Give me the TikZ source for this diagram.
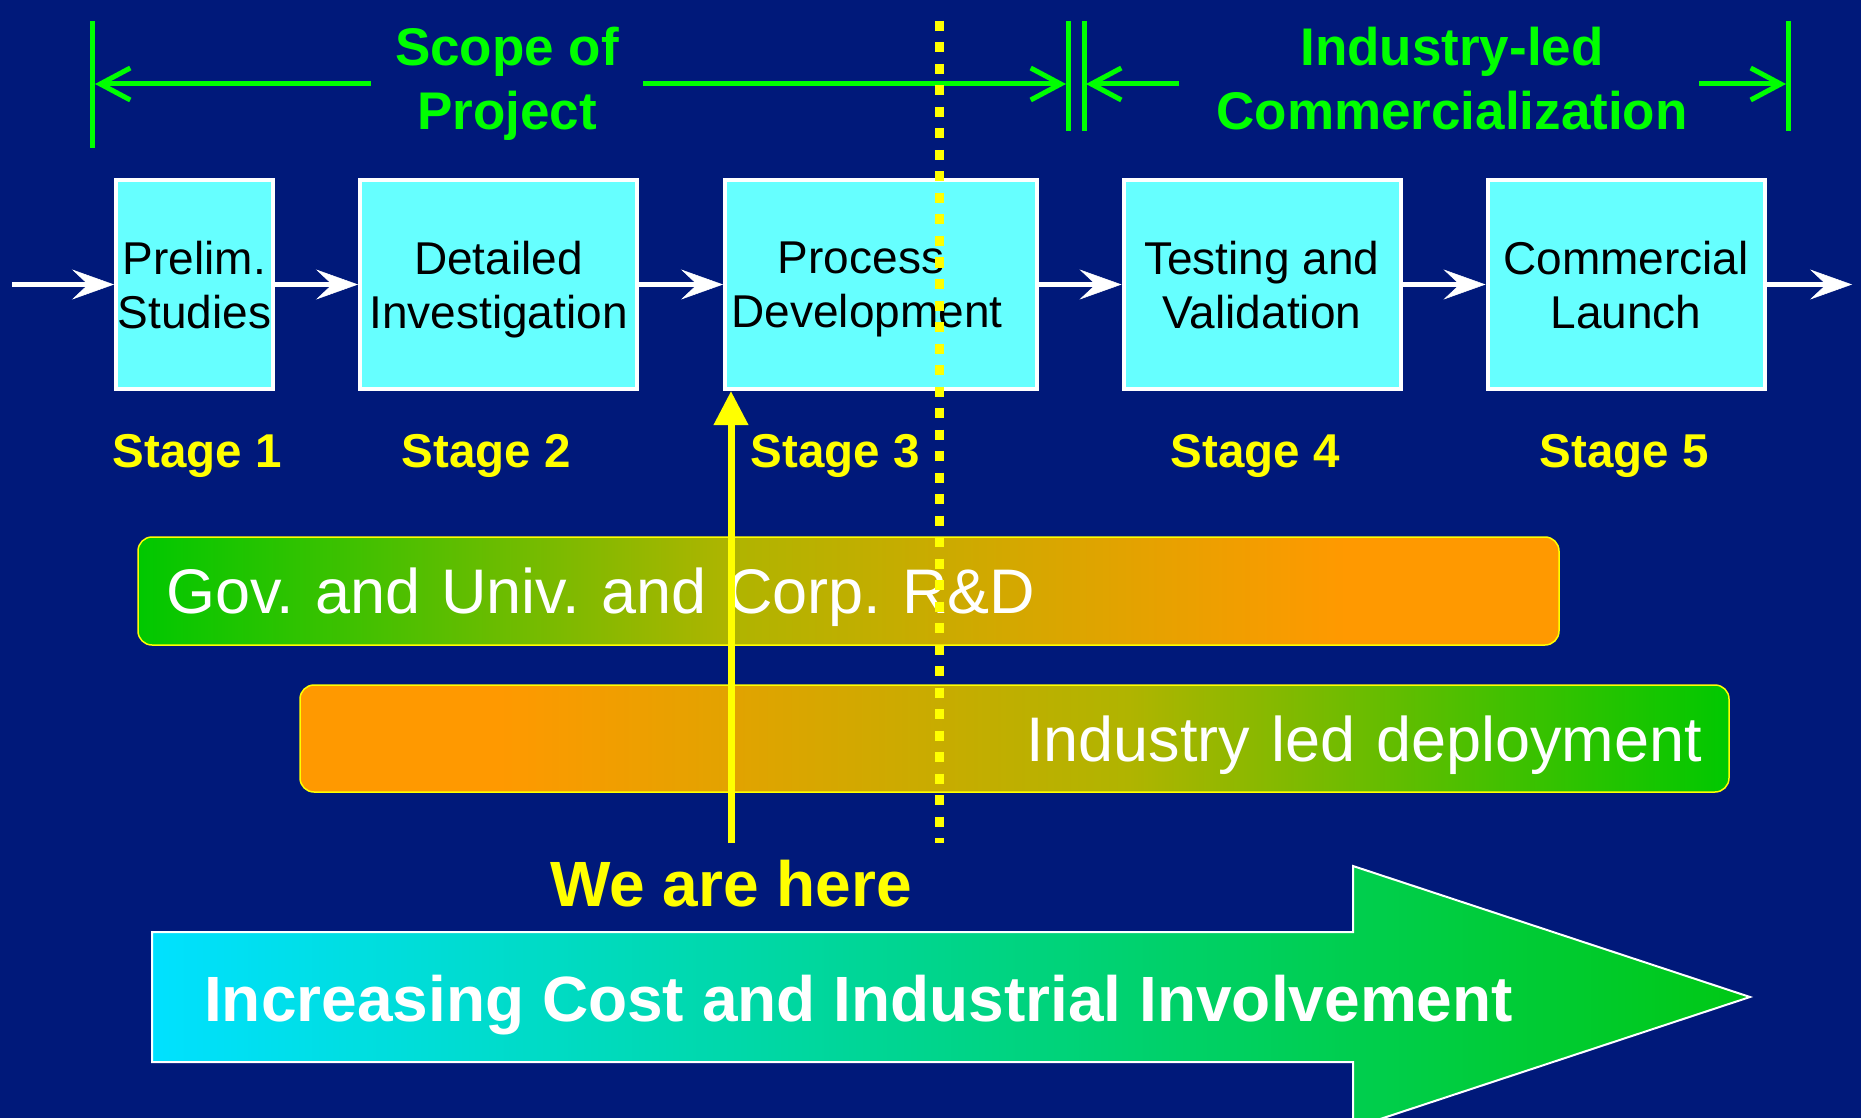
\documentclass[tikz,border=0pt]{standalone}
\usepackage{fontspec}
\setmainfont{Liberation Sans}
\usetikzlibrary{arrows.meta}
\definecolor{bg}{RGB}{0,25,122}
\definecolor{boxcyan}{RGB}{102,255,255}
\definecolor{lgreen}{RGB}{0,255,0}
\definecolor{yel}{RGB}{255,255,0}
\definecolor{barGreen}{RGB}{0,200,0}
\definecolor{barOlive}{RGB}{176,180,0}
\definecolor{barOrange}{RGB}{255,153,0}
\definecolor{arrCyan}{RGB}{0,225,255}
\definecolor{arrGreen}{RGB}{0,200,20}
\pgfdeclarehorizontalshading{govshade}{100bp}{color(0bp)=(barGreen); color(25bp)=(barGreen); color(46bp)=(barOlive); color(67.5bp)=(barOrange); color(100bp)=(barOrange)}
\pgfdeclarehorizontalshading{indshade}{100bp}{color(0bp)=(barOrange); color(25bp)=(barOrange); color(32bp)=(barOrange); color(54bp)=(barOlive); color(75bp)=(barGreen); color(100bp)=(barGreen)}
\begin{document}
\frenchspacing
\begin{tikzpicture}[x=1pt,y=-1pt,
  stagebox/.style={draw=white, line width=4pt, fill=boxcyan, inner sep=0pt, align=center,
    font=\fontsize{46}{54}\selectfont, text=black, text depth=0pt},
  flow/.style={draw=white, line width=5pt, -{Stealth[length=42pt,width=30pt,inset=16pt,line width=0.5pt]}},
  gline/.style={draw=lgreen, line width=5pt},
  garrow/.style={gline, -{Straight Barb[length=30pt,width=32pt,line width=5pt]}},
  gtitle/.style={text=lgreen, font=\bfseries\fontsize{53}{64}\selectfont, align=center, inner sep=0pt},
  stagelbl/.style={text=yel, font=\bfseries\fontsize{47.5}{50}\selectfont, anchor=base, inner sep=0pt},
  bar/.style={draw=yel, line width=1.5pt, rounded corners=14pt, inner sep=0pt,
    font=\fontsize{63}{70}\selectfont, text=white, text height=45pt, text depth=0pt},
]
% background / bounding box
\path[fill=bg] (0,0) rectangle (1861,1118);
\useasboundingbox (0,0) rectangle (1861,1118);

% ---- scope markers ----
\coordinate (L0) at (92,21);   \coordinate (L1) at (92,148);
\coordinate (M0) at (1068,21); \coordinate (M1) at (1068,131);
\coordinate (N0) at (1084,21); \coordinate (N1) at (1084,131);
\coordinate (R0) at (1788,21); \coordinate (R1) at (1788,131);
\coordinate (aLs) at (371,84);  \coordinate (aLe) at (95,84);
\coordinate (aRs) at (643,84);  \coordinate (aRe) at (1066,84);
\coordinate (bLs) at (1179,84); \coordinate (bLe) at (1086,84);
\coordinate (bRs) at (1699,84); \coordinate (bRe) at (1786,84);
\draw[gline] (L0) -- (L1);
\draw[gline] (M0) -- (M1);
\draw[gline] (N0) -- (N1);
\draw[gline] (R0) -- (R1);
\draw[garrow] (aLs) -- (aLe);
\draw[garrow] (aRs) -- (aRe);
\draw[garrow] (bLs) -- (bLe);
\draw[garrow] (bRs) -- (bRe);
\node[gtitle] (scope) at (507,84) {Scope of\\Project};
\node[gtitle] (indled) at (1452,79) {Industry-led\\Commercialization};

% ---- stage boxes ----
\node[stagebox, minimum width=157pt, minimum height=209pt] (b1) at (194.5,284.5) {Prelim.\\Studies};
\node[stagebox, minimum width=277pt, minimum height=209pt] (b2) at (498.5,284.5) {Detailed\\Investigation};
\node[stagebox, minimum width=312pt, minimum height=209pt] (b3) at (881,284.5) {Process\hspace*{40pt}\\Development\hspace*{28pt}};
\node[stagebox, minimum width=277pt, minimum height=209pt] (b4) at (1262,284.5) {Testing and\\Validation};
\node[stagebox, minimum width=277pt, minimum height=209pt] (b5) at (1626,284.5) {Commercial\\Launch};
\coordinate (fstart) at (12,284.5);
\coordinate (fend) at (1852,284.5);
\draw[flow] (fstart) -- (b1.west);
\draw[flow] (b1) -- (b2);
\draw[flow] (b2) -- (b3);
\draw[flow] (b3) -- (b4);
\draw[flow] (b4) -- (b5);
\draw[flow] (b5.east) -- (fend);

% ---- stage labels ----
\node[stagelbl] (s1) at (197,467) {Stage 1};
\node[stagelbl] (s2) at (486,467) {Stage 2};
\node[stagelbl] (s3) at (835,467) {Stage 3};
\node[stagelbl] (s4) at (1255,467) {Stage 4};
\node[stagelbl] (s5) at (1624,467) {Stage 5};

% ---- bars ----
\node[bar, shading=govshade, minimum width=1421pt, minimum height=108pt,
  text width=1365pt, align=left] (gov) at (848.5,591) {Gov. and Univ. and Corp. R\&D};
\node[bar, shading=indshade, minimum width=1429pt, minimum height=107pt,
  text width=1375pt, align=right] (ind) at (1014.5,738.5) {Industry led deployment};

% ---- big arrow ----
\shade[left color=arrCyan, right color=arrGreen, draw=white, line width=2pt]
  (152,932) -- (1353,932) -- (1353,866) -- (1750,997) -- (1353,1128) -- (1353,1062) -- (152,1062) -- cycle;
\node[anchor=base west, inner sep=0pt, text=white, font=\bfseries\fontsize{64}{70}\selectfont] (cost) at (204,1021)
  {Increasing Cost and Industrial Involvement};

% ---- yellow markers ----
\coordinate (dtop) at (939,21);
\coordinate (dbot) at (939,843);
\draw[yel, line width=9pt, dash pattern=on 10pt off 11.5pt] (dtop) -- (dbot);
\coordinate (here) at (731,843);
\draw[yel, line width=7pt, -{Triangle[length=34pt,width=33pt]}] (here) -- (here |- b3.south);
\node[anchor=base, inner sep=0pt, text=yel, font=\bfseries\fontsize{64}{70}\selectfont] (wah) at (731,906) {We are here};
\end{tikzpicture}
\end{document}
